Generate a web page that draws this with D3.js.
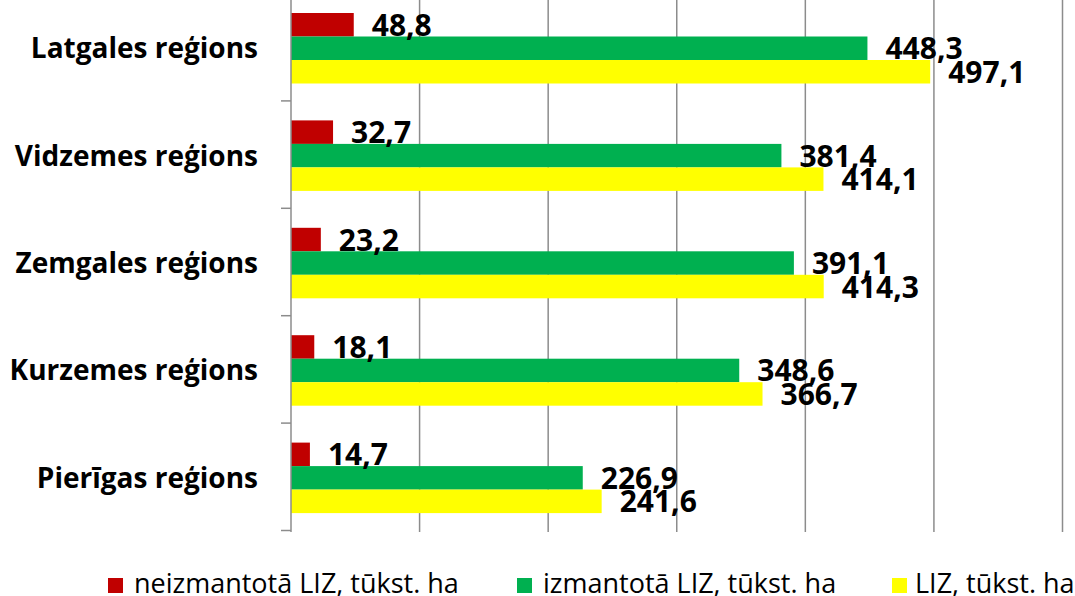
<!DOCTYPE html>
<html>
<head>
<meta charset="utf-8">
<script src="https://cdn.jsdelivr.net/npm/d3@7"></script>
<style>
  body { margin: 0; background: #fff; }
  svg { display: block; }
</style>
</head>
<body>
<svg id="chart" width="1075" height="596"></svg>
<script>
// Data
const regions = ["Latgales reģions", "Vidzemes reģions", "Zemgales reģions", "Kurzemes reģions", "Pierīgas reģions"];
const seriesNames = ["neizmantotā LIZ, tūkst. ha", "izmantotā LIZ, tūkst. ha", "LIZ, tūkst. ha"];
const seriesColors = ["#C00000", "#00B050", "#FFFF00"];
const unused = [48.8, 32.7, 23.2, 18.1, 14.7];
const used = [448.3, 381.4, 391.1, 348.6, 226.9];
const total = [497.1, 414.1, 414.3, 366.7, 241.6];
const gridTicks = [0, 100, 200, 300, 400, 500, 600];

const seriesValues = [unused, used, total];
const font = "'Open Sans', Lato, sans-serif";

const svg = d3.select("#chart");
const x0 = 291;

const xScale = d3.scaleLinear().domain([0, 600]).range([x0, 1062.5]);
const yScale = d3.scaleBand().domain(regions).range([-6.5, 530.5]).padding(0);
const subScale = d3.scaleBand().domain(seriesNames).range([19.5, 90]).padding(0);

// gridlines
svg.append("g")
  .selectAll("line")
  .data(gridTicks.slice(1))
  .join("line")
  .attr("x1", d => xScale(d))
  .attr("x2", d => xScale(d))
  .attr("y1", 0)
  .attr("y2", 532)
  .attr("stroke", "#8c8c8c")
  .attr("stroke-width", 1.5);

// bars
const groups = svg.append("g")
  .selectAll("g")
  .data(regions)
  .join("g")
  .attr("transform", d => `translate(0,${yScale(d)})`);

groups.each(function (region, ri) {
  const g = d3.select(this);
  seriesNames.forEach((s, si) => {
    const v = seriesValues[si][ri];
    g.append("rect")
      .attr("x", xScale(0))
      .attr("y", subScale(s))
      .attr("width", xScale(v) - xScale(0))
      .attr("height", subScale.bandwidth())
      .attr("fill", seriesColors[si]);
  });
  seriesNames.forEach((s, si) => {
    const v = seriesValues[si][ri];
    g.append("text")
      .attr("x", xScale(v) + 18)
      .attr("y", subScale(s) + subScale.bandwidth() / 2 + 11)
      .attr("font-family", font)
      .attr("font-weight", "bold")
      .attr("font-size", "30px")
      .attr("fill", "#000")
      .text(d3.format(".1f")(v).replace(".", ","));
  });
});

// y axis
const yAxis = svg.append("g")
  .attr("transform", `translate(${x0},0)`);
yAxis.append("line")
  .attr("x1", 0).attr("x2", 0)
  .attr("y1", 0).attr("y2", 532)
  .attr("stroke", "#8c8c8c")
  .attr("stroke-width", 1.5);
yAxis.selectAll(".tick")
  .data(regions)
  .join("line")
  .attr("x1", -10).attr("x2", 0)
  .attr("y1", d => yScale(d) + yScale.bandwidth())
  .attr("y2", d => yScale(d) + yScale.bandwidth())
  .attr("stroke", "#8c8c8c")
  .attr("stroke-width", 1.5);

// category labels
svg.append("g")
  .selectAll("text")
  .data(regions)
  .join("text")
  .attr("x", 258)
  .attr("y", d => yScale(d) + yScale.bandwidth() / 2 + 11)
  .attr("text-anchor", "end")
  .attr("font-family", font)
  .attr("font-weight", "bold")
  .attr("font-size", "28px")
  .attr("fill", "#000")
  .text(d => d);

// legend
const legendX = [108, 517, 892];
const legend = svg.append("g")
  .selectAll("g")
  .data(seriesNames)
  .join("g")
  .attr("transform", (d, i) => `translate(${legendX[i]},578)`);
legend.append("rect")
  .attr("x", 0).attr("y", 0)
  .attr("width", 15).attr("height", 15)
  .attr("fill", (d, i) => seriesColors[i]);
legend.append("text")
  .attr("x", (d, i) => i === 2 ? 23 : 26)
  .attr("y", 15)
  .attr("font-family", font)
  .attr("font-size", "27px")
  .attr("fill", "#000")
  .text(d => d);
</script>
</body>
</html>
